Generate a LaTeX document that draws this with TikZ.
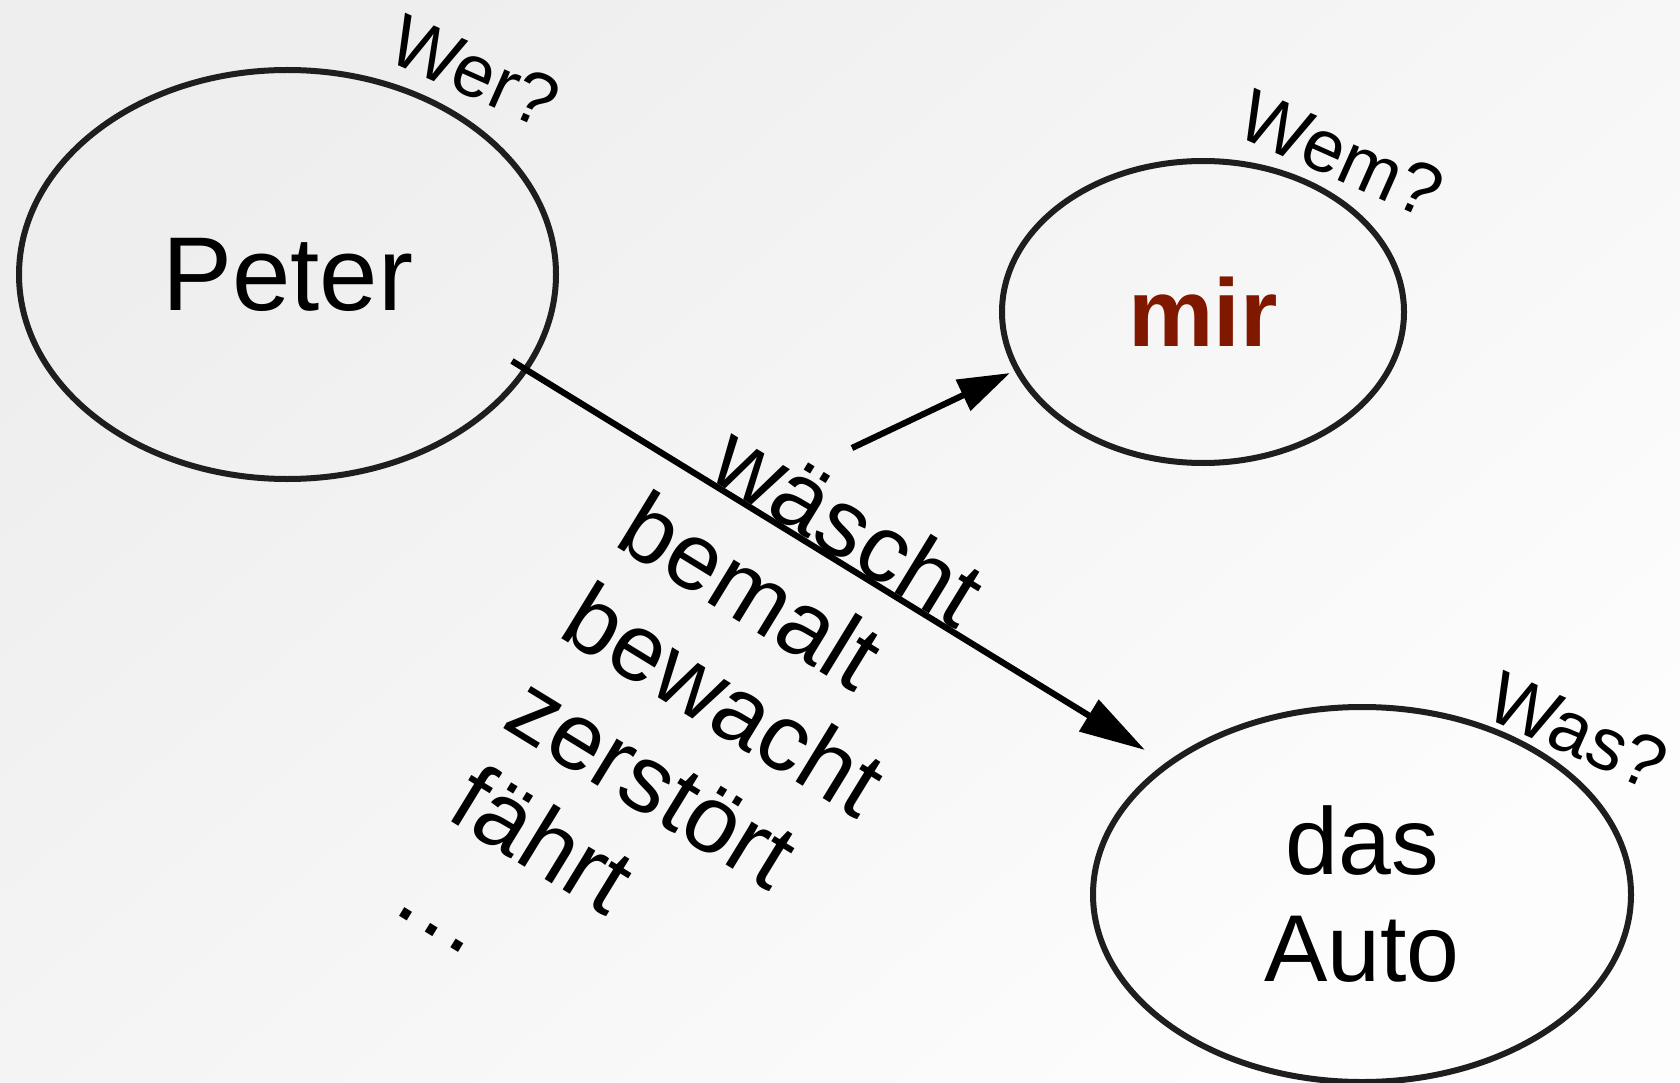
\documentclass[tikz,border=0pt]{standalone}
\usepackage{fontspec}
\setmainfont{Liberation Sans}
\usetikzlibrary{arrows.meta,shapes.geometric}
\definecolor{bgtop}{RGB}{238,238,238}
\definecolor{bgbot}{RGB}{253,253,253}
\definecolor{ellline}{RGB}{30,30,30}
\definecolor{mirred}{RGB}{128,24,0}
\begin{document}
\begin{tikzpicture}[x=1pt,y=-1pt,
  ell/.style={ellipse, draw=ellline, line width=6pt, inner sep=0pt},
  verb/.style={font=\fontsize{95}{107}\selectfont, inner sep=0pt, anchor=base west, rotate=-31.5},
  qlabel/.style={font=\fontsize{74}{85}\selectfont, inner sep=0pt, anchor=base west, rotate=-24},
  conn/.style={line width=6.2pt, draw=black}]
\shade[top color=bgtop, bottom color=bgbot, shading angle=40] (0,0) rectangle (1680,1083);
\useasboundingbox (0,0) rectangle (1680,1083);

% ellipses
\node[ell, minimum width=537pt, minimum height=409pt, font=\fontsize{105}{120}\selectfont] (peter) at (287.5,274.5) {Peter};
\node[ell, minimum width=402pt, minimum height=302pt, font=\fontsize{96}{110}\selectfont\bfseries, text=mirred] (mir) at (1203,312) {mir};
\node[ell, minimum width=538pt, minimum height=375pt, font=\fontsize{95}{107}\selectfont, align=center] (auto) at (1362,894.5) {das\\Auto};

% question labels
\node[qlabel] (wer) at (384,59) {Wer?};
\node[qlabel] (wem) at (1233.5,134) {Wem?};
\node[qlabel] (was) at (1482,716) {Was?};

% connectors
\coordinate (p1) at (512,361);
\coordinate (a1) at (1145,750);
\draw[conn, -{Triangle[length=66pt,width=36pt]}] (p1) -- (a1);
\coordinate (m0) at (852,448);
\coordinate (m1) at (1010,373);
\draw[conn, -{Triangle[length=52pt,width=33pt]}] (m0) -- (m1);

% verbs
\node[verb] (v0) at (705,476) {wäscht};
\begin{scope}[shift={(612,544)}, rotate=-31.5]
  \node[verb] (v1) at (0,0) {bemalt};
  \node[verb] (v2) at (0,107) {bewacht};
  \node[verb] (v3) at (0,214) {zerstört};
  \node[verb] (v4) at (0,321) {fährt};
  \node[verb] (v5) at (0,428) {…};
\end{scope}
\end{tikzpicture}
\end{document}
